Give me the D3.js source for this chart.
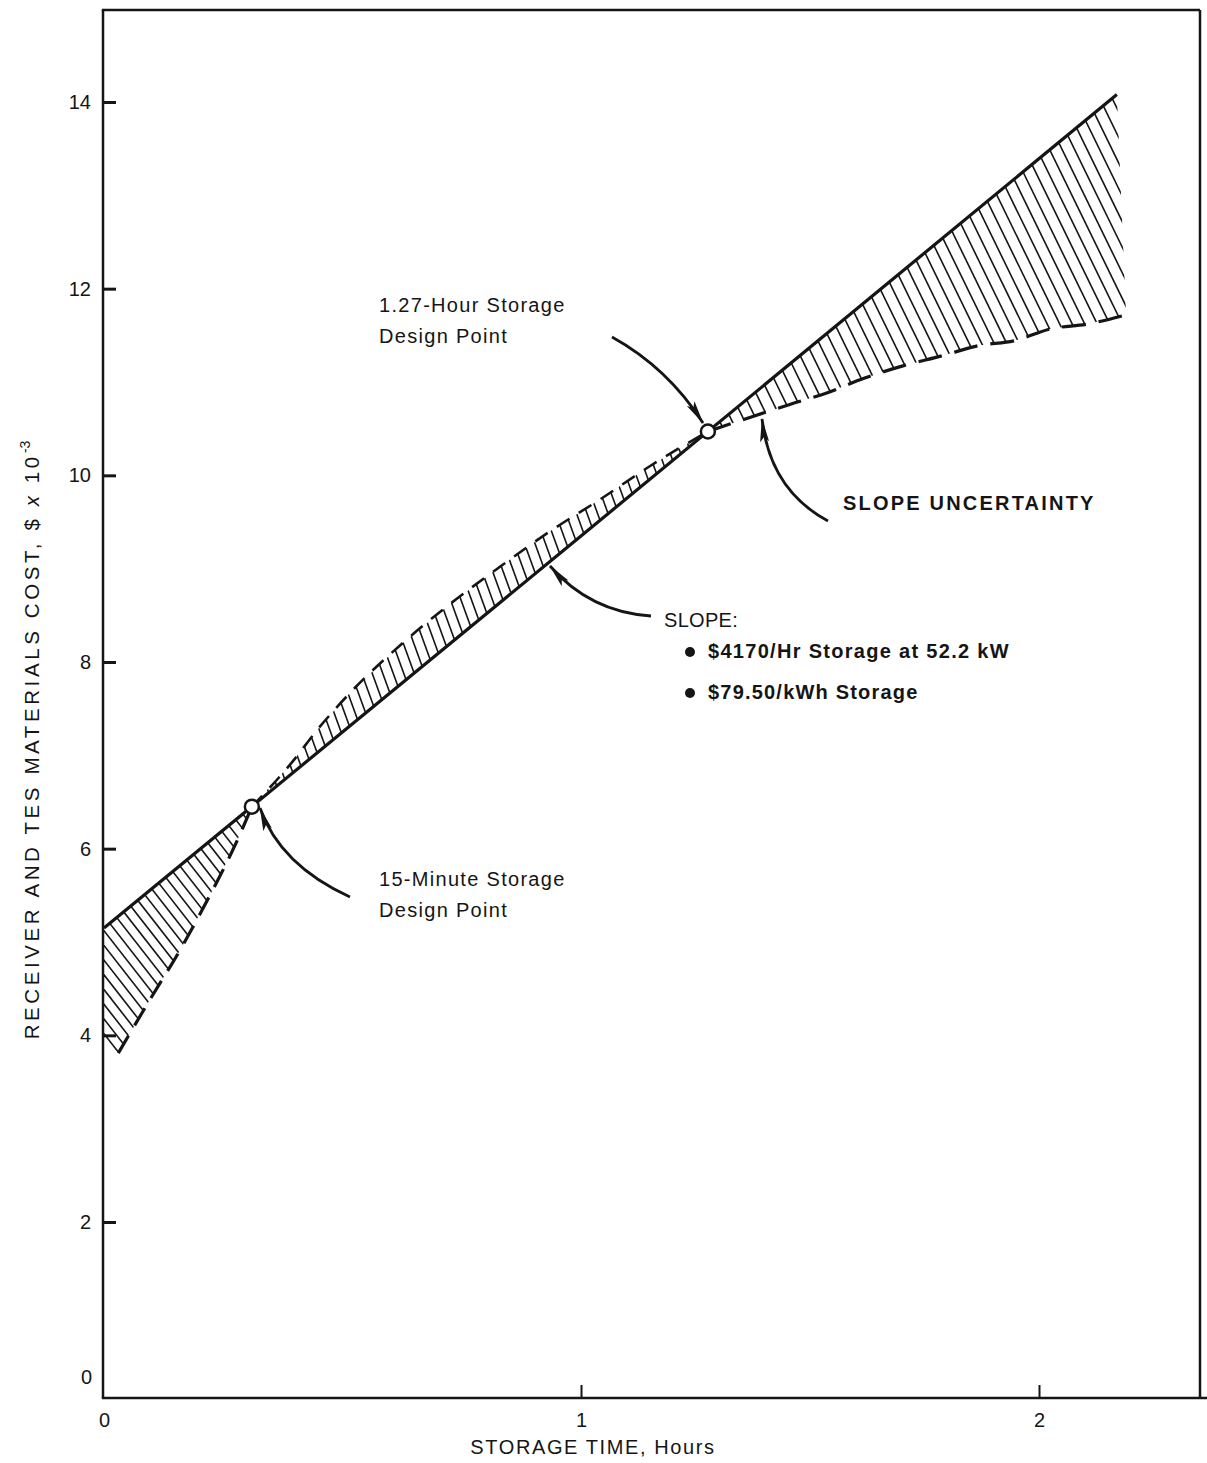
<!DOCTYPE html>
<html><head><meta charset="utf-8">
<script src="https://cdn.jsdelivr.net/npm/d3@7"></script>
<style>body{margin:0;background:#fff}</style>
</head><body>
<svg id="chart" width="1207" height="1463" xmlns="http://www.w3.org/2000/svg"></svg>
<script>
// ---------- data ----------
const xTicks = [0, 1, 2];
const yTicks = [2, 4, 6, 8, 10, 12, 14];
const solidT = [0, 1, 2.17];
const solidV = [5.15, 9.35, 14.08];
const leftDashT = [0.03, 0.096, 0.159, 0.222, 0.275, 0.31];
const leftDashV = [3.81, 4.38, 4.91, 5.50, 6.04, 6.45];
const leftEdgeT = [0];
const leftEdgeV = [3.95];
const midDashT = [0.31, 0.39, 0.453, 0.516, 0.621, 0.725, 0.83, 0.935, 1.041, 1.151, 1.277];
const midDashV = [6.45, 6.90, 7.31, 7.67, 8.18, 8.62, 9.02, 9.40, 9.74, 10.10, 10.47];
const rightDashT = [1.277, 1.362, 1.456, 1.535, 1.618, 1.701, 1.788, 1.869, 1.945, 2.026, 2.105, 2.19];
const rightDashV = [10.47, 10.61, 10.76, 10.88, 11.04, 11.17, 11.28, 11.39, 11.44, 11.57, 11.62, 11.72];
const designT = [0.31, 1.277];
const designV = [6.45, 10.47];

const ink = "#151515";
const svg = d3.select("#chart");
svg.append("rect").attr("width", 1207).attr("height", 1463).attr("fill", "#fff");

// scales (hand-drawn original: slightly uneven hour spacing)
const x = d3.scaleLinear().domain([0, 1, 2]).range([104, 581, 1039]);
const y = d3.scaleLinear().domain([2, 14]).range([1222, 102]);
const axisY = 1398, topY = 10, rightX = 1200;

const pts = (T, V) => T.map((t, i) => [t, V[i]]);
const line = d3.line().x(d => x(d[0])).y(d => y(d[1]));
const curve = d3.line().x(d => x(d[0])).y(d => y(d[1])).curve(d3.curveMonotoneX);
const solidScale = d3.scaleLinear().domain(solidT).range(solidV);
const solidAt = t => solidScale(t);

// ---------- frame & axes ----------
const frame = svg.append("g").attr("stroke", ink).attr("fill", "none").attr("stroke-width", 2.5);
frame.append("line").attr("x1", 103).attr("x2", 103).attr("y1", topY).attr("y2", axisY);
frame.append("line").attr("x1", 101.8).attr("x2", rightX).attr("y1", topY).attr("y2", topY);
frame.append("line").attr("x1", rightX).attr("x2", rightX).attr("y1", topY).attr("y2", axisY);
frame.append("line").attr("x1", 101.8).attr("x2", 1207).attr("y1", axisY).attr("y2", axisY);

const yAxis = d3.axisLeft(y).tickValues(yTicks).tickSize(-13).tickPadding(12).tickFormat(d3.format("d"));
const gy = svg.append("g").attr("transform", "translate(103,0)").call(yAxis);
gy.select(".domain").remove();
gy.selectAll(".tick line").attr("stroke", ink).attr("stroke-width", 3);
gy.selectAll(".tick text").attr("font-family", "Liberation Sans, Arial, sans-serif").attr("font-size", 20).attr("fill", ink);
svg.append("text").attr("x", 92).attr("y", 1378).attr("dy", "0.32em").attr("text-anchor", "end")
  .attr("font-family", "Liberation Sans, Arial, sans-serif").attr("font-size", 20).attr("fill", ink).text("0");

const xAxis = d3.axisBottom(x).tickValues(xTicks).tickSize(0).tickPadding(15).tickFormat(d3.format("d"));
const gx = svg.append("g").attr("transform", `translate(0,${axisY})`).call(xAxis);
gx.select(".domain").remove();
gx.selectAll(".tick text").attr("font-family", "Liberation Sans Narrow, Liberation Sans, Arial, sans-serif").attr("font-size", 20).attr("fill", ink);
gx.selectAll(".tick").filter(d => d > 0).append("line").attr("y1", 0).attr("y2", -13).attr("stroke", ink).attr("stroke-width", 2);

svg.append("text").attr("x", 593).attr("y", 1454).attr("text-anchor", "middle")
  .attr("font-family", "Liberation Sans Narrow, Liberation Sans, Arial, sans-serif").attr("font-size", 20)
  .attr("letter-spacing", 1.6).attr("fill", ink).text("STORAGE TIME, Hours");

const yl = svg.append("text").attr("transform", "translate(39,740) rotate(-90)").attr("text-anchor", "middle")
  .attr("font-family", "Liberation Sans, Arial, sans-serif").attr("font-size", 20.5).attr("letter-spacing", 3.6).attr("fill", ink);
yl.append("tspan").text("RECEIVER AND TES MATERIALS COST, $ ");
yl.append("tspan").attr("font-style", "italic").text("x");
yl.append("tspan").text(" 10");
yl.append("tspan").attr("dy", -9).attr("font-size", 14).attr("letter-spacing", 0).text("-3");

// ---------- hatched regions ----------
const defs = svg.append("defs");
function hatchRegion(id, poly, angleDeg, spacing) {
  const d = line(poly) + "Z";
  defs.append("clipPath").attr("id", id).append("path").attr("d", d);
  const px = poly.map(p => [x(p[0]), y(p[1])]);
  const x0 = d3.min(px, p => p[0]) - 400, x1 = d3.max(px, p => p[0]) + 50;
  const y0 = d3.min(px, p => p[1]) - 5, y1 = d3.max(px, p => p[1]) + 5;
  const dx = (y1 - y0) / Math.tan(angleDeg * Math.PI / 180);
  const g = svg.append("g").attr("clip-path", `url(#${id})`).attr("stroke", ink).attr("stroke-width", 1.6);
  for (let xs = x0; xs <= x1; xs += spacing) {
    g.append("line").attr("x1", xs).attr("y1", y0).attr("x2", xs + dx).attr("y2", y1);
  }
}
const leftPoly = [...pts(leftEdgeT, leftEdgeV), [0, solidAt(0)], [designT[0], solidAt(designT[0])], ...pts(leftDashT, leftDashV).reverse()];
hatchRegion("clipL", leftPoly, 52, 11.5);
const midPoly = [...pts(midDashT, midDashV), [designT[1], solidAt(designT[1])], [1, solidAt(1)], [designT[0], solidAt(designT[0])]];
hatchRegion("clipM", midPoly, 70, 10.5);
const rightPoly = [[designT[1], solidAt(designT[1])], [solidT[2], solidV[2]], ...pts(rightDashT, rightDashV).reverse()];
hatchRegion("clipR", rightPoly, 64, 12.5);

// ---------- lines ----------
svg.append("path").attr("d", curve(pts(leftDashT, leftDashV))).attr("fill", "none").attr("stroke", ink)
  .attr("stroke-width", 3.2).attr("stroke-dasharray", "20,12");
svg.append("path").attr("d", curve(pts(midDashT, midDashV))).attr("fill", "none").attr("stroke", ink)
  .attr("stroke-width", 2.6).attr("stroke-dasharray", "15,11");
svg.append("path").attr("d", curve(pts(rightDashT, rightDashV))).attr("fill", "none").attr("stroke", ink)
  .attr("stroke-width", 3.2).attr("stroke-dasharray", "24,13");
svg.append("path").attr("d", line(pts(solidT, solidV))).attr("fill", "none").attr("stroke", ink)
  .attr("stroke-width", 3.2);

svg.selectAll("circle.dp").data(pts(designT, designV)).join("circle").attr("class", "dp")
  .attr("cx", d => x(d[0])).attr("cy", d => y(d[1])).attr("r", 7)
  .attr("fill", "#fff").attr("stroke", ink).attr("stroke-width", 2.5);

// ---------- annotations ----------
defs.append("marker").attr("id", "ah").attr("viewBox", "0 0 24 12").attr("refX", 23).attr("refY", 6)
  .attr("markerWidth", 24).attr("markerHeight", 12).attr("markerUnits", "userSpaceOnUse").attr("orient", "auto")
  .append("path").attr("d", "M0,1.5 L24,6 L0,10.5 L5,6 Z").attr("fill", ink);
const arrows = [
  "M612,337 Q668,368 703,423",
  "M828,521 Q770,490 762,419",
  "M651,616 Q590,612 550,566",
  "M350,897 Q280,865 260,808"
];
svg.selectAll("path.arrow").data(arrows).join("path").attr("class", "arrow").attr("d", d => d)
  .attr("fill", "none").attr("stroke", ink).attr("stroke-width", 2.8).attr("marker-end", "url(#ah)");

const font = "Liberation Sans, Arial, sans-serif";
const txt = (xx, yy, s, opts = {}) => svg.append("text").attr("x", xx).attr("y", yy)
  .attr("font-family", font).attr("font-size", opts.size || 20).attr("font-weight", opts.weight || "normal")
  .attr("letter-spacing", opts.ls || 0).attr("fill", ink).text(s);
txt(379, 312, "1.27-Hour Storage", { ls: 1.3 });
txt(379, 343, "Design Point", { ls: 1.3 });
txt(379, 886, "15-Minute Storage", { ls: 1.3 });
txt(379, 917, "Design Point", { ls: 1.3 });
txt(843, 510, "SLOPE UNCERTAINTY", { weight: "bold", size: 20, ls: 2.2 });
txt(664, 627, "SLOPE:", { size: 20, ls: 0.3 });
txt(708, 658, "$4170/Hr Storage at 52.2 kW", { weight: "bold", size: 20, ls: 1.3 });
txt(708, 699, "$79.50/kWh Storage", { weight: "bold", size: 20, ls: 1.2 });
svg.append("circle").attr("cx", 690).attr("cy", 652).attr("r", 5).attr("fill", ink);
svg.append("circle").attr("cx", 690).attr("cy", 693).attr("r", 5).attr("fill", ink);
</script>
</body></html>
